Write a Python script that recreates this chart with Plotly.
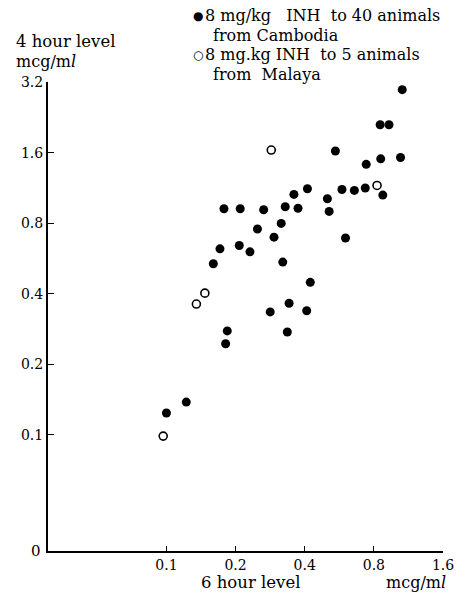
import plotly.graph_objects as go

# Cambodia (filled): 6-hour level (x), 4-hour level (y), mcg/ml
camb_x = [1.063, 0.852, 0.931, 0.544, 0.741, 0.857, 1.045, 0.411, 0.359, 0.502,
          0.581, 0.658, 0.734, 0.875, 0.178, 0.2095, 0.265, 0.329, 0.374, 0.511,
          0.316, 0.249, 0.294, 0.602, 0.171, 0.2075, 0.231, 0.160, 0.321, 0.423,
          0.342, 0.283, 0.408, 0.184, 0.336, 0.181, 0.122, 0.100]
camb_y = [2.98, 2.11, 2.11, 1.63, 1.43, 1.51, 1.53, 1.125, 1.064, 1.02,
          1.117, 1.107, 1.133, 1.057, 0.924, 0.924, 0.915, 0.942, 0.929, 0.90,
          0.80, 0.757, 0.699, 0.693, 0.623, 0.644, 0.605, 0.538, 0.547, 0.448,
          0.365, 0.335, 0.339, 0.278, 0.275, 0.245, 0.138, 0.124]

# Malaya (open)
mal_x = [0.286, 0.826, 0.147, 0.135, 0.0968]
mal_y = [1.646, 1.162, 0.403, 0.362, 0.0988]

x_ticks = [0.1, 0.2, 0.4, 0.8, 1.6]
x_ticklabels = ["0.1", "0.2", "0.4", "0.8", "1.6"]
y_ticks = [0.1, 0.2, 0.4, 0.8, 1.6, 3.2]
y_ticklabels = ["0.1", "0.2", "0.4", "0.8", "1.6", "3.2"]

legend_lines = ["8 mg/kg   INH  to 40 animals", "from Cambodia",
                "8 mg.kg INH  to 5 animals", "from  Malaya"]

FONT = "DejaVu Serif"

fig = go.Figure()
fig.add_trace(go.Scatter(
    x=camb_x, y=camb_y, mode="markers", name="Cambodia",
    marker=dict(symbol="circle", size=9, color="black"),
))
fig.add_trace(go.Scatter(
    x=mal_x, y=mal_y, mode="markers", name="Malaya",
    marker=dict(symbol="circle-open", size=8, color="black", line=dict(width=1.6)),
))

def ann(text, x, y, xanchor="left", yanchor="middle", size=15):
    return dict(text=text, xref="paper", yref="paper", x=x, y=y,
                xanchor=xanchor, yanchor=yanchor, showarrow=False,
                font=dict(family=FONT, size=size, color="black"))

annotations = [
    ann("0", -0.0125, 0.0, xanchor="right", size=15),
    ann("6 hour level", 0.5125, -0.068, xanchor="center", size=16.5),
    ann("mcg/m<i>l</i>", 1.012, -0.068, xanchor="right", size=16),
    ann("4 hour level", -0.087, 1.087, size=16.5),
    ann("mcg/m<i>l</i>", -0.087, 1.043, size=16),
    # legend
    ann("●", 0.38, 1.141, xanchor="center", size=12),
    ann(legend_lines[0], 0.392, 1.141, size=16),
    ann(legend_lines[1], 0.4125, 1.100, size=16),
    ann("○", 0.38, 1.058, xanchor="center", size=12),
    ann(legend_lines[2], 0.392, 1.058, size=16),
    ann(legend_lines[3], 0.4125, 1.017, size=16),
]

fig.update_layout(
    width=466, height=593,
    margin=dict(l=48, r=18, t=82, b=42),
    paper_bgcolor="white", plot_bgcolor="white",
    font=dict(family=FONT, size=14, color="black"),
    showlegend=False,
    xaxis=dict(type="log", range=[-1.5157, 0.2041], showgrid=False, zeroline=False,
               showline=True, linecolor="black", linewidth=1.5,
               ticks="inside", ticklen=5, tickcolor="black", tickwidth=1.2,
               tickvals=x_ticks, ticktext=x_ticklabels,
               tickfont=dict(family=FONT, size=14)),
    yaxis=dict(type="log", range=[-1.496, 0.507], showgrid=False, zeroline=False,
               showline=True, linecolor="black", linewidth=2,
               ticks="inside", ticklen=6, tickcolor="black", tickwidth=1.2,
               tickvals=y_ticks, ticktext=y_ticklabels,
               tickfont=dict(family=FONT, size=14)),
    annotations=annotations,
)

fig.write_html("out.html", config={"displayModeBar": False},
               post_script="document.body.style.margin='0';")
